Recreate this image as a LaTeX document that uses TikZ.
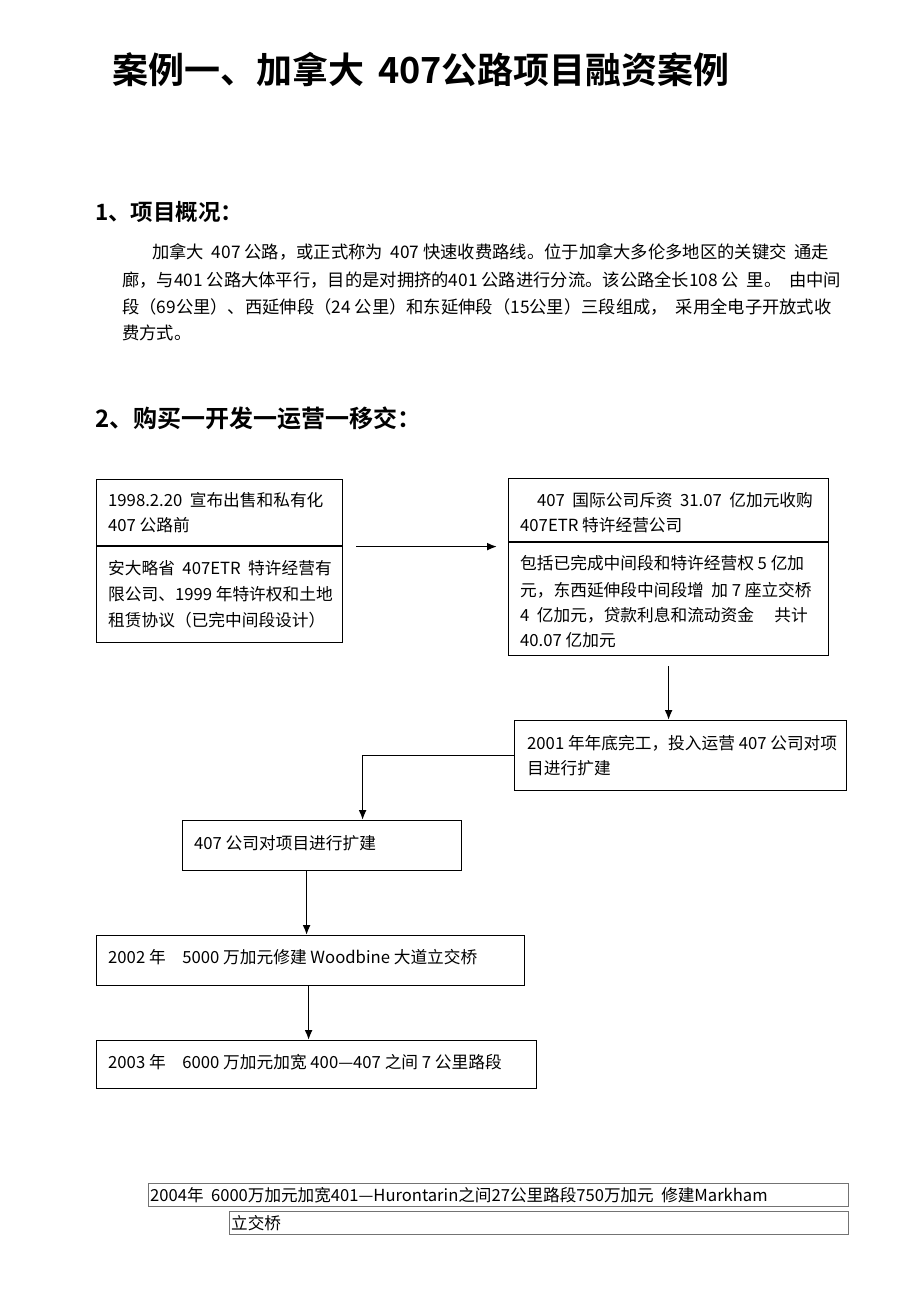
\documentclass[tikz,border=0pt]{standalone}
\usepackage{fontspec}
\setmainfont{Noto Sans CJK SC}[BoldFont={Noto Sans CJK SC Bold}]
\usetikzlibrary{arrows.meta}
\begin{document}
\begin{tikzpicture}[x=1pt,y=-1pt,
  box/.style={draw=black,line width=1.2pt,inner sep=0pt,anchor=north west},
  thinbox/.style={draw=black!55,line width=0.8pt,inner sep=0pt,anchor=north west},
  txt/.style={inner sep=0pt,anchor=base west,font=\fontsize{16.7}{20}\selectfont},
  para/.style={inner sep=0pt,anchor=base west,font=\fontsize{17.3}{20}\selectfont},
  small/.style={inner sep=0pt,anchor=base west,font=\fontsize{16.6}{18}\selectfont},
  arr/.style={line width=1.7pt,-{Latex[length=10pt,width=8pt]}},
  conn/.style={line width=1.7pt}]
\useasboundingbox[fill=white] (0,0) rectangle (920,1301);

% title and headings
\node[inner sep=0pt,anchor=base west,font=\fontsize{36}{40}\selectfont\bfseries] (title) at (112,83) {案例一、加拿大\hspace{14pt}407公路项目融资案例};
\node[inner sep=0pt,anchor=base west,font=\fontsize{22.5}{26}\selectfont\bfseries] (h1) at (95,220) {1、项目概况：};
\node[para] (p1) at (152,258) {加拿大\ \ 407 公路，或正式称为\ \ 407 快速收费路线。位于加拿大多伦多地区的关键交\ \ 通走};
\node[para] (p2) at (122,286) {廊，与401 公路大体平行，目的是对拥挤的401 公路进行分流。该公路全长108 公\ \ 里。\ \ 由中间};
\node[para] (p3) at (122,313) {段（69公里）、西延伸段（24 公里）和东延伸段（15公里）三段组成，\ \ 采用全电子开放式收};
\node[para] (p4) at (122,339) {费方式。};
\node[inner sep=0pt,anchor=base west,font=\fontsize{24}{28}\selectfont\bfseries] (h2) at (95,427) {2、购买一开发一运营一移交：};

% box A
\node[box,minimum width=246pt,minimum height=163pt] (A) at (96,479) {};
\draw[line width=1.2pt] (96,546) -- (342,546);
\node[txt] (a1) at (108,506) {1998.2.20\ \ 宣布出售和私有化};
\node[txt] (a2) at (108,531) {407 公路前};
\node[txt] (a3) at (108,574) {安大略省\ \ 407ETR\ \ 特许经营有};
\node[txt] (a4) at (108,600) {限公司、1999 年特许权和土地};
\node[txt] (a5) at (108,626) {租赁协议（已完中间段设计）};

% box B
\node[box,minimum width=320pt,minimum height=177pt] (B) at (508,478) {};
\draw[line width=1.2pt] (508,542) -- (828,542);
\node[txt] (b1) at (537,506) {407\ \ 国际公司斥资\ \ 31.07\ \ 亿加元收购};
\node[txt] (b2) at (520,531) {407ETR 特许经营公司};
\node[txt] (b3) at (520,569) {包括已完成中间段和特许经营权 5 亿加};
\node[txt] (b4) at (520,596) {元，东西延伸段中间段增\ \ 加 7 座立交桥};
\node[txt] (b5) at (520,621) {4\ \ 亿加元，贷款利息和流动资金\quad\ 共计};
\node[txt] (b6) at (520,646) {40.07 亿加元};

% box C
\node[box,minimum width=332pt,minimum height=70pt] (C) at (514,720) {};
\node[txt] (c1) at (527,749) {2001 年年底完工，投入运营 407 公司对项};
\node[txt] (c2) at (527,774) {目进行扩建};

% box D
\node[box,minimum width=279pt,minimum height=50pt] (D) at (182,820) {};
\node[txt] (d1) at (194,849) {407 公司对项目进行扩建};

% box E
\node[box,minimum width=428pt,minimum height=50pt] (E) at (96,935) {};
\node[txt] (e1) at (108,963) {2002 年\quad 5000 万加元修建 Woodbine 大道立交桥};

% box F
\node[box,minimum width=440pt,minimum height=48pt] (F) at (96,1040) {};
\node[txt] (f1) at (108,1068) {2003 年\quad 6000 万加元加宽 400—407 之间 7 公里路段};

% bottom boxes
\node[thinbox,minimum width=700pt,minimum height=23pt] (G) at (148,1183) {};
\node[small] (g1) at (150,1201) {2004年\ \ 6000万加元加宽401—Hurontarin之间27公里路段750万加元\ \ 修建Markham};
\node[thinbox,minimum width=619pt,minimum height=23pt] (H) at (229,1211) {};
\node[small] (h1t) at (231,1229) {立交桥};

% connectors
\coordinate (s1) at ([shift={(13pt,14.5pt)}]A.east);
\draw[arr] (s1) -- ([xshift=-11pt]s1 -| B.west);
\draw[arr] ([yshift=-10pt]B.south) -- (B.south |- C.north);
\draw[arr] (C.west) -| ([xshift=40.5pt]D.north);
\draw[arr] ([xshift=-4pt]E.north |- D.south) -- ([xshift=-4pt]E.north);
\draw[arr] ([xshift=-2pt]E.south) -- ([xshift=-2pt]E.south |- F.north);
\end{tikzpicture}
\end{document}
